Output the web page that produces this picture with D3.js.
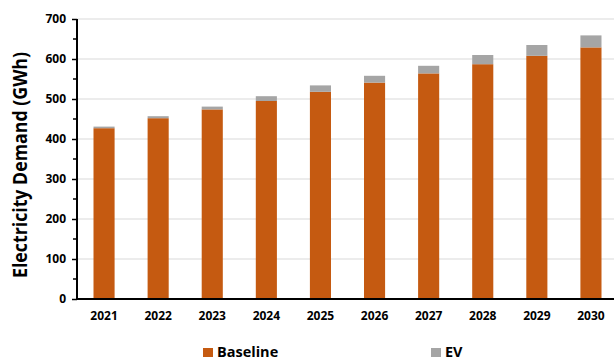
<!DOCTYPE html>
<html>
<head>
<meta charset="utf-8">
<script src="https://cdn.jsdelivr.net/npm/d3@7"></script>
<style>
  html, body { margin: 0; padding: 0; background: #fff; }
  svg { display: block; }
  text { font-family: "Open Sans", "DejaVu Sans", sans-serif; font-weight: bold; fill: #000; }
</style>
</head>
<body>
<svg id="chart" width="614" height="361"></svg>
<script>
// Annual electricity demand (GWh): baseline load plus added EV load
const years = ["2021", "2022", "2023", "2024", "2025", "2026", "2027", "2028", "2029", "2030"];
const baseline = [427, 452, 474, 495, 518, 541, 564, 587, 608, 629];
const ev = [4, 5, 7, 12, 16, 17, 19, 23, 27, 30];
const yTicks = [0, 100, 200, 300, 400, 500, 600, 700];
const seriesNames = ["Baseline", "EV"];
const colors = { Baseline: "#C55A11", EV: "#A5A5A5" };

const svg = d3.select("#chart");
const margin = { left: 77, right: -4, top: 19, bottom: 62 };
const W = 614, H = 361;

const x = d3.scaleBand()
  .domain(years)
  .range([margin.left, W - margin.right])
  .paddingInner(0.61)
  .paddingOuter(0.305);

const y = d3.scaleLinear()
  .domain([0, 700])
  .range([H - margin.bottom, margin.top]);

// gridlines
svg.append("g")
  .selectAll("line")
  .data(yTicks.filter(d => d > 0))
  .join("line")
  .attr("x1", margin.left)
  .attr("x2", W)
  .attr("y1", d => y(d))
  .attr("y2", d => y(d))
  .attr("stroke", "#d9d9d9")
  .attr("stroke-width", 1);

// stacked bars
const rows = years.map((yr, i) => ({ year: yr, Baseline: baseline[i], EV: ev[i] }));
const stacked = d3.stack().keys(seriesNames)(rows);

svg.append("g")
  .selectAll("g")
  .data(stacked)
  .join("g")
  .attr("fill", d => colors[d.key])
  .selectAll("rect")
  .data(d => d)
  .join("rect")
  .attr("x", d => x(d.data.year))
  .attr("width", x.bandwidth())
  .attr("y", d => y(d[1]))
  .attr("height", d => y(d[0]) - y(d[1]));

// y axis with minor ticks
const yAxis = svg.append("g")
  .attr("transform", `translate(${margin.left},0)`)
  .call(d3.axisLeft(y).tickValues(yTicks).tickSize(5).tickPadding(6).tickFormat(d3.format("d")));
yAxis.select(".domain").attr("stroke", "#000").attr("stroke-width", 2).attr("d", `M0,${y(0)}V${y(700)}`);
yAxis.selectAll(".tick line").attr("stroke", "#000").attr("stroke-width", 1.5);
yAxis.selectAll(".tick text").style("font-size", "12px").style("font-family", "'Open Sans', sans-serif").style("font-weight", "bold");

svg.append("g")
  .attr("transform", `translate(${margin.left},0)`)
  .selectAll("line")
  .data(d3.range(50, 700, 100))
  .join("line")
  .attr("x1", -4).attr("x2", 0)
  .attr("y1", d => y(d)).attr("y2", d => y(d))
  .attr("stroke", "#000").attr("stroke-width", 1.5);

// x axis
const xAxis = svg.append("g")
  .attr("transform", `translate(0,${y(0)})`)
  .call(d3.axisBottom(x).tickSize(0).tickPadding(12));
xAxis.select(".domain").attr("stroke", "#000").attr("stroke-width", 2).attr("d", `M${margin.left - 1},0H${W}`);
xAxis.selectAll(".tick text").style("font-size", "12px").style("font-family", "'Open Sans', sans-serif").style("font-weight", "bold");

// y axis title, condensed to the narrow heading width
svg.append("text")
  .attr("transform", `translate(27,165) rotate(-90)`)
  .attr("text-anchor", "middle")
  .attr("textLength", 226)
  .attr("lengthAdjust", "spacingAndGlyphs")
  .style("font-size", "19px")
  .style("font-family", "'Open Sans', sans-serif")
  .text("Electricity Demand (GWh)");

// legend
const legendX = { Baseline: 203, EV: 431 };
const legend = svg.append("g")
  .selectAll("g")
  .data(seriesNames)
  .join("g")
  .attr("transform", d => `translate(${legendX[d]},348)`);
legend.append("rect").attr("width", 10).attr("height", 9).attr("fill", d => colors[d]);
legend.append("text")
  .attr("x", 14).attr("y", 9)
  .style("font-size", "14.5px")
  .style("font-family", "'Open Sans', sans-serif")
  .text(d => d);
</script>
</body>
</html>
